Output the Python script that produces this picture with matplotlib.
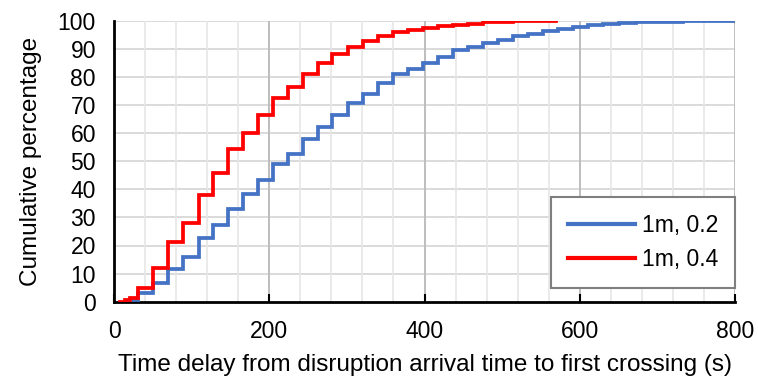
import matplotlib
matplotlib.use("Agg")
import matplotlib.pyplot as plt

plt.rcParams['font.family'] = ['Liberation Sans', 'DejaVu Sans']

# Series 1: "1m, 0.2" (blue) - time (s) and cumulative percentage after each step
blue_x = [16.3, 22, 31.3, 50.6, 69.9, 89.2, 109.4, 127.8, 147.1, 166.5, 185.8,
          205.1, 223.6, 242.9, 263, 281, 301.6, 320.9, 340.2, 359.5, 378.8,
          398.1, 417.4, 436.7, 456, 475.3, 494.6, 513.9, 533.2, 552.5, 571.8,
          591, 610, 630, 650, 673, 700, 733, 800]
blue_y = [0, 0.6, 3.0, 6.8, 11.6, 15.8, 22.5, 27.3, 32.9, 38.2, 43.3,
          49.0, 52.6, 57.8, 62.0, 66.4, 70.8, 73.9, 77.7, 81.0, 82.9,
          85.1, 87.0, 89.4, 90.5, 91.9, 93.2, 94.4, 95.4, 96.4, 97.2,
          97.8, 98.4, 99.0, 99.3, 99.5, 99.7, 100, 100]

# Series 2: "1m, 0.4" (red)
red_x = [7.7, 14, 21, 31.3, 50.6, 69.9, 89.2, 109.4, 127.8, 147.1, 166.5, 185.8,
         205.1, 223.6, 242.9, 263, 281, 301.6, 320.9, 340.2, 359.5, 378.8,
         398.1, 417.4, 436.7, 456, 475.3, 494.6, 513.9, 533.2, 552.5, 570]
red_y = [0, 0.6, 1.3, 4.7, 11.9, 21.4, 27.9, 38.0, 45.7, 54.2, 60.1, 66.4,
         72.6, 76.3, 81.0, 84.8, 88.1, 90.6, 92.8, 94.7, 95.9, 96.8,
         97.4, 98.0, 98.6, 99.0, 99.4, 99.6, 99.8, 99.9, 100, 100]

labels = ["1m, 0.2", "1m, 0.4"]
x_ticks = [0, 200, 400, 600, 800]
y_ticks = list(range(0, 101, 10))

FS = 16.5
FS_LABEL = 17.5

fig = plt.figure(figsize=(7.58, 3.80), dpi=100)
ax = fig.add_axes([114/758, 1-301.7/380, (735-114)/758, (301.7-20.7)/380])

ax.set_xlim(0, 800)
ax.set_ylim(0, 100)

# gridlines
for yv in y_ticks[1:]:
    ax.axhline(yv, color='#d4d4d4', lw=1.2, zorder=0)
for xv in range(40, 801, 40):
    if xv % 200 == 0:
        ax.axvline(xv, color='#bdbdbd', lw=1.4, zorder=0)
    else:
        ax.axvline(xv, color='#e6e6e6', lw=1.2, zorder=0)

ax.plot(blue_x, blue_y, drawstyle='steps-post', color='#4472C4', lw=2.7,
        label=labels[0], zorder=3, solid_joinstyle='miter')
ax.plot(red_x, red_y, drawstyle='steps-post', color='#FF0000', lw=2.7,
        label=labels[1], zorder=4, solid_joinstyle='miter')

ax.set_xticks(x_ticks)
ax.set_yticks(y_ticks)
ax.tick_params(axis='x', direction='in', length=6, width=1.5, color='black',
               labelsize=FS, pad=13)
ax.tick_params(axis='y', length=0, labelsize=FS, pad=13)

for s in ['top', 'right']:
    ax.spines[s].set_visible(False)
for s in ['left', 'bottom']:
    ax.spines[s].set_linewidth(2)
    ax.spines[s].set_color('black')

ax.set_xlabel("Time delay from disruption arrival time to first crossing (s)",
              fontsize=FS_LABEL, labelpad=8)
ax.set_ylabel("Cumulative percentage", fontsize=FS_LABEL, labelpad=11)

leg = ax.legend(loc='lower right', bbox_to_anchor=(1.0, 0.047), borderaxespad=0,
                fontsize=FS, frameon=True, fancybox=False, handlelength=2.9,
                handletextpad=0.3, labelspacing=0.5, borderpad=0.75)
leg.get_frame().set_edgecolor('#7f7f7f')
leg.get_frame().set_linewidth(1.5)
leg.get_frame().set_facecolor('white')
leg.get_frame().set_alpha(1)
for line in leg.get_lines():
    line.set_linewidth(3)

fig.savefig("out.png", dpi=100)
